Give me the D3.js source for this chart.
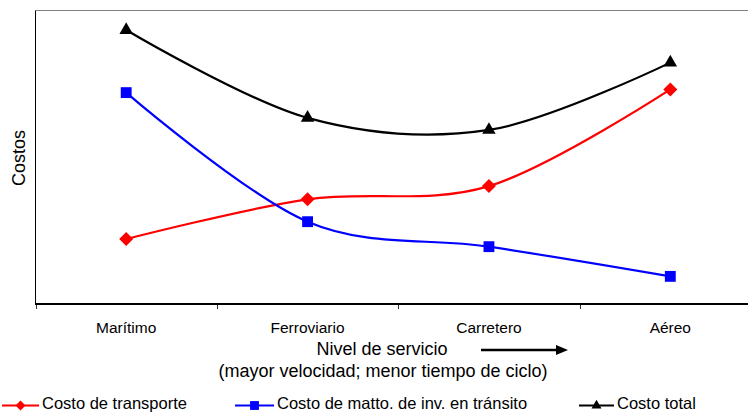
<!DOCTYPE html>
<html>
<head>
<meta charset="utf-8">
<script src="https://cdn.jsdelivr.net/npm/d3@7/dist/d3.min.js"></script>
<style>
  html, body { margin: 0; padding: 0; background: #fff; }
  svg { display: block; font-family: "Liberation Sans", Arial, sans-serif; }
</style>
</head>
<body>
<svg id="chart" width="748" height="412"></svg>
<script>
// Modos de transporte (eje X) y costos relativos (sin escala numérica)
const categories = ["Marítimo", "Ferroviario", "Carretero", "Aéreo"];
const costoTransporte = [2.21, 3.56, 4.01, 7.30];
const costoInventario = [7.19, 2.80, 1.95, 0.94];
const costoTotal = [9.32, 6.33, 5.92, 8.21];
const seriesNames = ["Costo de transporte", "Costo de matto. de inv. en tránsito", "Costo total"];

const svg = d3.select("#chart");
const W = 748;

const plot = { left: 35.5, top: 10.5, bottom: 304, right: 761 };

const x = d3.scaleBand().domain(categories).range([plot.left, plot.right]).padding(0);
const y = d3.scaleLinear().domain([0, 10]).range([plot.bottom, 10]);
const cx = c => x(c) + x.bandwidth() / 2;

const series = [
  { name: seriesNames[0], values: costoTransporte, color: "#ff0000", symbol: d3.symbolDiamond2, size: 125, legendSize: 64 },
  { name: seriesNames[1], values: costoInventario, color: "#0000ff", symbol: d3.symbolSquare2, size: 150, legendSize: 100 },
  { name: seriesNames[2], values: costoTotal, color: "#000000", symbol: d3.symbolTriangle2, size: 130, legendSize: 72 }
];

// Marco del área de trazado
svg.append("line")
  .attr("x1", plot.left).attr("x2", W).attr("y1", plot.top).attr("y2", plot.top)
  .attr("stroke", "#808080").attr("stroke-width", 1);
svg.append("line")
  .attr("x1", plot.left).attr("x2", plot.left).attr("y1", plot.top).attr("y2", plot.bottom)
  .attr("stroke", "#000").attr("stroke-width", 1);

// Eje X: marcas en los límites de cada categoría
svg.append("g").selectAll("line").data(categories).join("line")
  .attr("x1", d => Math.round(x(d)) + 0.5).attr("x2", d => Math.round(x(d)) + 0.5)
  .attr("y1", plot.bottom).attr("y2", plot.bottom + 5)
  .attr("stroke", "#333").attr("stroke-width", 1);
svg.append("line")
  .attr("x1", plot.left - 0.5).attr("x2", W).attr("y1", plot.bottom).attr("y2", plot.bottom)
  .attr("stroke", "#000").attr("stroke-width", 2);

svg.append("g").selectAll("text").data(categories).join("text")
  .attr("x", d => cx(d)).attr("y", 333)
  .attr("text-anchor", "middle").attr("font-size", 15.5).attr("fill", "#000")
  .text(d => d);

// Títulos de los ejes
svg.append("text")
  .attr("transform", "translate(25,158) rotate(-90)")
  .attr("text-anchor", "middle").attr("font-size", 18).attr("fill", "#000")
  .text("Costos");

svg.append("text")
  .attr("x", 382).attr("y", 355)
  .attr("text-anchor", "middle").attr("font-size", 18).attr("fill", "#000")
  .text("Nivel de servicio");
svg.append("text")
  .attr("x", 383).attr("y", 377)
  .attr("text-anchor", "middle").attr("font-size", 18).attr("fill", "#000")
  .text("(mayor velocidad; menor tiempo de ciclo)");

// Flecha de sentido creciente del nivel de servicio
svg.append("line")
  .attr("x1", 481).attr("x2", 558).attr("y1", 350).attr("y2", 350)
  .attr("stroke", "#000").attr("stroke-width", 2.5);
svg.append("path")
  .attr("d", "M556,345 L568,350 L556,355 Z")
  .attr("fill", "#000");

// Curvas suavizadas de cada serie
const line = d3.line()
  .x((d, i) => cx(categories[i]))
  .y(d => y(d))
  .curve(d3.curveCardinal.tension(0));

const g = svg.append("g");
series.forEach(s => {
  g.append("path")
    .attr("d", line(s.values))
    .attr("fill", "none")
    .attr("stroke", s.color).attr("stroke-width", 2.2)
    .attr("stroke-linejoin", "round");
});
series.forEach(s => {
  g.append("g").selectAll("path").data(s.values).join("path")
    .attr("transform", (d, i) => `translate(${cx(categories[i])},${y(d)})`)
    .attr("d", d3.symbol(s.symbol, s.size))
    .attr("fill", s.color);
});

// Leyenda
const legendPos = [
  { lx: 2, tx: 42 },
  { lx: 235, tx: 277 },
  { lx: 579, tx: 617 }
];
const legendY = 405.5;
series.forEach((s, i) => {
  const p = legendPos[i];
  const lg = svg.append("g");
  lg.append("line")
    .attr("x1", p.lx).attr("x2", p.tx - 3).attr("y1", legendY).attr("y2", legendY)
    .attr("stroke", s.color).attr("stroke-width", 2.2);
  lg.append("path")
    .attr("transform", `translate(${(p.lx + p.tx - 3) / 2},${legendY})`)
    .attr("d", d3.symbol(s.symbol, s.legendSize))
    .attr("fill", s.color);
  lg.append("text")
    .attr("x", p.tx).attr("y", 408.5)
    .attr("font-size", 16.5).attr("fill", "#000")
    .text(s.name);
});
</script>
</body>
</html>
